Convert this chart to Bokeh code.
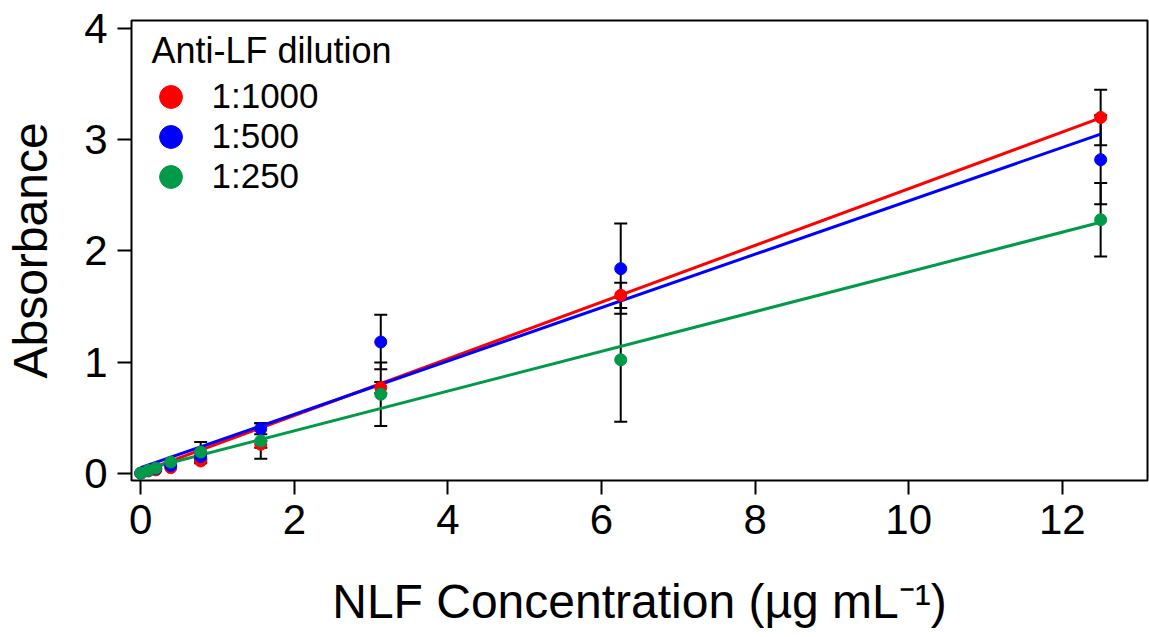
import numpy as np
from bokeh.plotting import figure
from bokeh.models import ColumnDataSource, Whisker, TeeHead, Legend, LegendItem, Range1d, Label
from bokeh.embed import file_html
from bokeh.resources import INLINE

# ---- data ----
conc = [0.0, 0.0977, 0.195, 0.39, 0.78, 1.5625, 3.125, 6.25, 12.5]
red_y = [0.00, 0.02, 0.03, 0.05, 0.11, 0.26, 0.77, 1.60, 3.20]
red_err = [0.0, 0.0, 0.0, 0.0, 0.02, 0.03, 0.05, 0.114, 0.25]
blue_y = [0.00, 0.025, 0.04, 0.07, 0.15, 0.40, 1.18, 1.84, 2.82]
blue_err = [0.0, 0.0, 0.0, 0.0, 0.03, 0.05, 0.246, 0.405, 0.40]
green_y = [0.00, 0.025, 0.045, 0.10, 0.19, 0.29, 0.71, 1.02, 2.28]
green_err = [0.0, 0.0, 0.0, 0.0, 0.09, 0.16, 0.285, 0.557, 0.33]

fit_x = [0.0, 12.5]
red_fit = [0.01, 3.196]
blue_fit = [0.05, 3.05]
green_fit = [0.024, 2.257]

legend_title = "Anti-LF dilution"
labels = ["1:1000", "1:500", "1:250"]
colors = ["#ff0000", "#0000ff", "#009a49"]
x_ticks = [0, 2, 4, 6, 8, 10, 12]
y_ticks = [0, 1, 2, 3, 4]

FONT = "Liberation Sans"

p = figure(width=1149, height=637, output_backend="svg", toolbar_location=None,
           x_range=Range1d(-0.121, 13.11), y_range=Range1d(-0.0657, 4.072),
           min_border_left=131, min_border_top=20, min_border_bottom=157, min_border_right=2)
p.grid.visible = False
p.background_fill_color = "white"
p.border_fill_color = "white"
p.outline_line_color = "black"
p.outline_line_width = 2

series = [(red_y, red_err, red_fit), (blue_y, blue_err, blue_fit), (green_y, green_err, green_fit)]

# fit lines
for (ys, es, fit), c in zip(series, colors):
    p.line(fit_x, fit, line_color=c, line_width=3)

# error bars
for (ys, es, fit), c in zip(series, colors):
    x = np.array(conc); y = np.array(ys); e = np.array(es)
    m = e > 0
    src = ColumnDataSource(dict(x=x[m], lo=(y - e)[m], hi=(y + e)[m]))
    w = Whisker(source=src, base="x", lower="lo", upper="hi", dimension="height",
                line_color="black", line_width=2,
                upper_head=TeeHead(size=13, line_color="black", line_width=2),
                lower_head=TeeHead(size=13, line_color="black", line_width=2))
    p.add_layout(w)

# markers + legends (one per row so rows can sit 40px apart with large glyphs)
row_bottoms = [355.5, 315.5, 275.5]
for (ys, es, fit), c, lab, vb in zip(series, colors, labels, row_bottoms):
    r = p.scatter(conc, ys, size=12, fill_color=c, line_color=c, marker="circle")
    lg = Legend(items=[LegendItem(label=lab, renderers=[r])], location=(10.5, vb),
                label_text_font=FONT, label_text_font_size="35px", label_text_color="black",
                glyph_width=57, glyph_height=57, label_standoff=13,
                padding=0, margin=0, border_line_color=None, background_fill_alpha=0)
    p.add_layout(lg)

title = Label(x=20, y=430, x_units="screen", y_units="screen", text=legend_title,
              text_font=FONT, text_font_size="36px", text_color="black",
              text_baseline="alphabetic", text_align="left")
p.add_layout(title)

for ax in (p.xaxis, p.yaxis):
    ax.axis_line_color = None
    ax.major_tick_line_color = "black"
    ax.major_tick_line_width = 2
    ax.major_tick_in = 0
    ax.major_tick_out = 14
    ax.minor_tick_line_color = None
    ax.major_label_text_font = FONT
    ax.major_label_text_font_size = "42px"
    ax.major_label_text_color = "black"
    ax.axis_label_text_font = FONT
    ax.axis_label_text_font_size = "48px"
    ax.axis_label_text_font_style = "normal"
    ax.axis_label_text_color = "black"

p.xaxis.ticker = x_ticks
p.yaxis.ticker = y_ticks
p.xaxis.axis_label = "NLF Concentration (µg mL⁻¹)"
p.yaxis.axis_label = "Absorbance"
p.xaxis.major_label_standoff = 10
p.yaxis.major_label_standoff = 10
p.xaxis.axis_label_standoff = 38
p.yaxis.axis_label_standoff = 24

open("out.html", "w").write(file_html(p, INLINE))
